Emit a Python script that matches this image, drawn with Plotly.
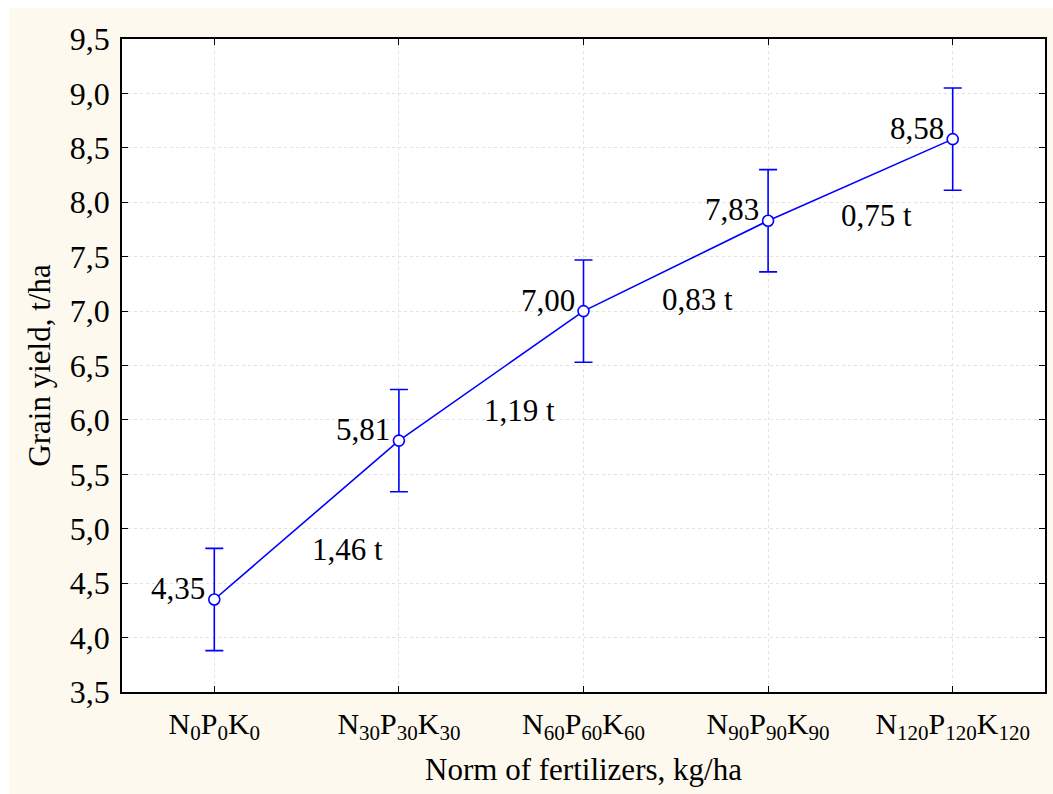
import plotly.graph_objects as go

categories = ["N<sub>0</sub>P<sub>0</sub>K<sub>0</sub>",
              "N<sub>30</sub>P<sub>30</sub>K<sub>30</sub>",
              "N<sub>60</sub>P<sub>60</sub>K<sub>60</sub>",
              "N<sub>90</sub>P<sub>90</sub>K<sub>90</sub>",
              "N<sub>120</sub>P<sub>120</sub>K<sub>120</sub>"]
yields = [4.35, 5.81, 7.00, 7.83, 8.58]
errors = [0.47, 0.47, 0.47, 0.47, 0.47]
value_labels = ["4,35", "5,81", "7,00", "7,83", "8,58"]
gain_labels = ["1,46 t", "1,19 t", "0,83 t", "0,75 t"]
gain_x = [0.724, 1.654, 2.616, 3.589]
gain_y = [4.805, 6.091, 7.102, 7.874]
yticks = [3.5, 4.0, 4.5, 5.0, 5.5, 6.0, 6.5, 7.0, 7.5, 8.0, 8.5, 9.0, 9.5]

FONT = "Liberation Serif"
FS = 31
BLUE = "#0000FF"
CREAM = "#FDF9EF"

xs = list(range(len(categories)))

fig = go.Figure()
fig.add_trace(go.Scatter(
    x=xs, y=yields, mode="lines+markers",
    line=dict(color=BLUE, width=1.6),
    marker=dict(symbol="circle", size=11, color="white",
                line=dict(color=BLUE, width=1.6)),
    error_y=dict(type="data", array=errors, visible=True,
                 color=BLUE, thickness=1.6, width=9),
    showlegend=False, hoverinfo="skip",
))

annotations = []
for x, y, t in zip(xs, yields, value_labels):
    annotations.append(dict(x=x, y=y, text=t, showarrow=False,
                            xanchor="right", yanchor="middle",
                            xshift=-7, yshift=11,
                            font=dict(family=FONT, size=FS, color="black")))
for x, y, t in zip(gain_x, gain_y, gain_labels):
    annotations.append(dict(x=x, y=y, text=t, showarrow=False,
                            xanchor="center", yanchor="middle",
                            font=dict(family=FONT, size=FS, color="black")))

axis_common = dict(showline=True, linecolor="black", linewidth=1.5,
                   mirror="ticks", ticks="inside", ticklen=6,
                   tickcolor="black", tickwidth=1.2,
                   showgrid=True, gridcolor="#E2E2E2", griddash="dot",
                   gridwidth=1, zeroline=False)

fig.update_layout(
    width=1053, height=794,
    margin=dict(l=122, r=6, t=39, b=102),
    paper_bgcolor=CREAM, plot_bgcolor="white",
    separators=", ",
    font=dict(family=FONT, size=FS, color="black"),
    xaxis=dict(**axis_common, tickmode="array", tickvals=xs,
               ticktext=categories, range=[-0.5, 4.5],
               tickfont=dict(family=FONT, size=30, color="black"),
               ticklabelstandoff=4,
               title=dict(text="Norm of fertilizers, kg/ha",
                          font=dict(family=FONT, size=FS), standoff=14)),
    yaxis=dict(**axis_common, tickmode="array", tickvals=yticks,
               tickformat=".1f", range=[3.5, 9.5],
               tickfont=dict(family=FONT, size=32, color="black"),
               ticklabelstandoff=4,
               title=dict(text="Grain yield, t/ha",
                          font=dict(family=FONT, size=FS), standoff=10)),
    annotations=annotations,
    shapes=[
        dict(type="rect", xref="paper", yref="paper",
             x0=-0.2, x1=1.1, y0=1 + 31 / 653, y1=1 + 45 / 653,
             fillcolor="white", line=dict(width=0), layer="below"),
        dict(type="rect", xref="paper", yref="paper",
             x0=-0.15, x1=(9 - 122) / 925, y0=-0.3, y1=1.1,
             fillcolor="white", line=dict(width=0), layer="below"),
    ],
)

fig.write_html("out.html")
